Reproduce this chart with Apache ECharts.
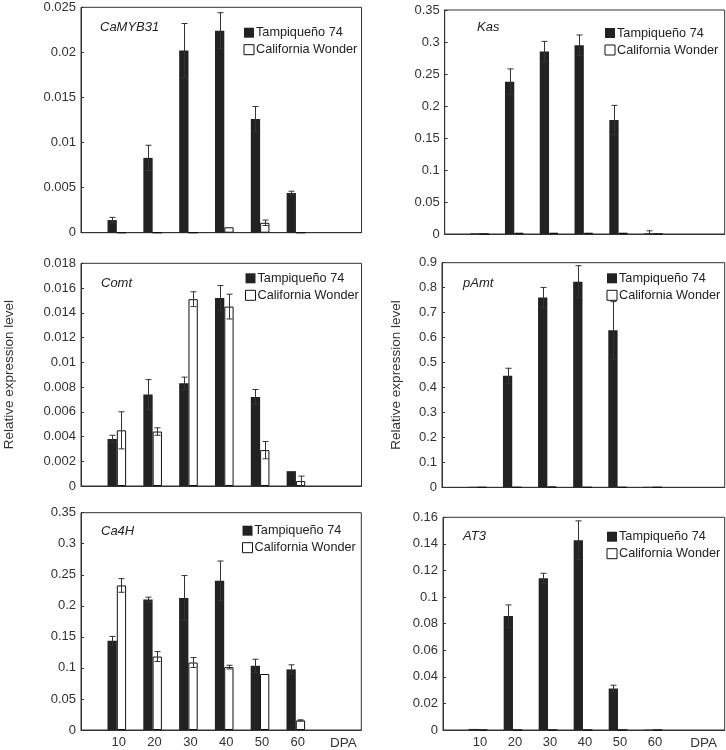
<!DOCTYPE html>
<html><head><meta charset="utf-8">
<script src="https://cdn.jsdelivr.net/npm/echarts@6/dist/echarts.min.js"></script>
<style>html,body{margin:0;padding:0;background:#fff}#c{width:726px;height:750px}</style>
</head><body><div id="c"></div>
<script>
// ---- data ----
const dpa = [10, 20, 30, 40, 50, 60];
const seriesNames = ['Tampiqueño 74', 'California Wonder'];
const genes = ['CaMYB31', 'Kas', 'Comt', 'pAmt', 'Ca4H', 'AT3'];
const yTitle = 'Relative expression level';
const xTitle = 'DPA';

const camyb31Tamp    = [0.0014, 0.0083, 0.0202, 0.0224, 0.0126, 0.0044];
const camyb31TampErr = [0.0003, 0.0014, 0.0030, 0.0020, 0.0014, 0.0002];
const camyb31Cal     = [0, 0, 0, 0.0006, 0.0011, 0];
const camyb31CalErr  = [0, 0, 0, 0, 0.0003, 0];

const kasTamp    = [0.001, 0.238, 0.285, 0.295, 0.178, 0.001];
const kasTampErr = [0, 0.020, 0.016, 0.016, 0.023, 0.004];
const kasCal     = [0, 0.002, 0.002, 0.002, 0.002, 0];
const kasCalErr  = [0, 0, 0, 0, 0, 0];

const comtTamp    = [0.0038, 0.0074, 0.0083, 0.0152, 0.0072, 0.0012];
const comtTampErr = [0.0003, 0.0012, 0.0005, 0.0010, 0.0006, 0];
const comtCal     = [0.0045, 0.0044, 0.0151, 0.0145, 0.0029, 0.0004];
const comtCalErr  = [0.0015, 0.0003, 0.0006, 0.0010, 0.0007, 0.0004];

const pamtTamp    = [0.002, 0.447, 0.761, 0.824, 0.629, 0.002];
const pamtTampErr = [0, 0.030, 0.040, 0.064, 0.115, 0];
const pamtCal     = [0, 0, 0.002, 0, 0, 0];
const pamtCalErr  = [0, 0, 0, 0, 0, 0];

const ca4hTamp    = [0.1437, 0.2100, 0.2127, 0.2402, 0.1034, 0.0976];
const ca4hTampErr = [0.007, 0.004, 0.036, 0.032, 0.0106, 0.0074];
const ca4hCal     = [0.2328, 0.1183, 0.1087, 0.1013, 0.0902, 0.0154];
const ca4hCalErr  = [0.011, 0.008, 0.008, 0.003, 0, 0.001];

const at3Tamp    = [0.0008, 0.0857, 0.1142, 0.1427, 0.0312, 0.0003];
const at3TampErr = [0, 0.0084, 0.0037, 0.0146, 0.0025, 0];
const at3Cal     = [0, 0, 0, 0, 0, 0];
const at3CalErr  = [0, 0, 0, 0, 0, 0];

const yMax      = [0.025, 0.35, 0.018, 0.9, 0.35, 0.16];
const yInterval = [0.005, 0.05, 0.002, 0.1, 0.05, 0.02];

const tampAll = [camyb31Tamp, kasTamp, comtTamp, pamtTamp, ca4hTamp, at3Tamp];
const tampErrAll = [camyb31TampErr, kasTampErr, comtTampErr, pamtTampErr, ca4hTampErr, at3TampErr];
const calAll = [camyb31Cal, kasCal, comtCal, pamtCal, ca4hCal, at3Cal];
const calErrAll = [camyb31CalErr, kasCalErr, comtCalErr, pamtCalErr, ca4hCalErr, at3CalErr];

// ---- layout (styles) ----
const layout = [
  {grid:[81, 7.3, 280.5, 225.4], xMax:78.3, title:[100, 20.5], legend:[238.5, 20.7], xl:false, yname:false},
  {grid:[444.7, 10, 280, 224], xMax:80.5, title:[477, 20.5], legend:[599.5, 21], xl:false, yname:false},
  {grid:[81, 263.3, 280.5, 222.7], xMax:78.3, title:[101, 276.8], legend:[240, 266.3], xl:false, yname:true, nameGap:65},
  {grid:[442, 262.7, 282.7, 224.6], xMax:80.5, title:[463, 276.8], legend:[601.5, 266.3], xl:false, yname:true, nameGap:39},
  {grid:[81, 512.7, 280.3, 220], xMax:78.3, title:[101, 525.2], legend:[237, 518.7], xl:true, yname:false, dpaGap:-18},
  {grid:[443, 517.3, 281.7, 215.4], xMax:80.5, title:[463, 530.2], legend:[601.5, 524.7], xl:true, yname:false, dpaGap:-21}
];

const FONT = '"Liberation Sans", Arial, sans-serif';
const DARK = '#222';
const BW = 9.3;

const grids = [], xAxes = [], yAxes = [], series = [], legends = [], titles = [];
layout.forEach((L, i) => {
  grids.push({left:L.grid[0], top:L.grid[1], width:L.grid[2], height:L.grid[3],
    show:true, borderColor:'#333', borderWidth:1, backgroundColor:'transparent'});
  xAxes.push({type:'value', gridIndex:i, min:0, max:L.xMax, interval:10,
    axisLine:{show:true, lineStyle:{color:'#333', width:1}},
    axisTick:{show:false}, splitLine:{show:false},
    axisLabel:{show:L.xl, color:'#333', fontSize:13, fontFamily:FONT, margin:6, padding:[0,0,0,4],
      showMinLabel:true, showMaxLabel:false,
      formatter: v => dpa.indexOf(Math.round(v)) >= 0 ? String(Math.round(v)) : ''},
    name: L.xl ? xTitle : '', nameLocation:'end', nameGap: L.dpaGap || 0,
    nameTextStyle:{color:'#333', fontSize:13.5, fontFamily:FONT, align:'center', verticalAlign:'top', padding:[6,0,0,0]}
  });
  yAxes.push({type:'value', gridIndex:i, min:0, max:yMax[i], interval:yInterval[i],
    axisLine:{show:true, lineStyle:{color:'#333', width:1}},
    axisTick:{show:true, inside:true, length:3, lineStyle:{color:'#333'}},
    splitLine:{show:false},
    axisLabel:{color:'#333', fontSize:13, fontFamily:FONT, margin:5},
    name: L.yname ? yTitle : '', nameLocation:'middle', nameGap: L.nameGap || 0,
    nameTextStyle:{color:'#333', fontSize:13.5, fontFamily:FONT}
  });
  series.push({type:'bar', name:seriesNames[0], xAxisIndex:i, yAxisIndex:i,
    barWidth:BW, barGap:'0%', itemStyle:{color:DARK},
    data: dpa.map((d, k) => [d, tampAll[i][k]])});
  series.push({type:'bar', name:seriesNames[1], xAxisIndex:i, yAxisIndex:i,
    barWidth:BW, barGap:'0%', itemStyle:{color:'#fff', borderColor:'#111', borderWidth:1},
    data: dpa.map((d, k) => [d, calAll[i][k]])});
  [[tampAll[i], tampErrAll[i], -BW/2], [calAll[i], calErrAll[i], BW/2]].forEach(([vals, errs, off]) => {
    series.push({type:'custom', xAxisIndex:i, yAxisIndex:i, silent:true, z:5,
      encode:{x:0, y:1},
      data: dpa.map((d, k) => [d, vals[k], errs[k]]),
      renderItem(params, api) {
        const x = api.value(0), v = api.value(1), e = api.value(2);
        if (!e) return null;
        const t = api.coord([x, v + e]), b = api.coord([x, Math.max(0, v - e)]);
        const cx = Math.round(t[0] + off) + 0.5, cw = 3;
        const st = {stroke:'#333', lineWidth:1};
        return {type:'group', children:[
          {type:'line', shape:{x1:cx, y1:t[1], x2:cx, y2:b[1]}, style:st},
          {type:'line', shape:{x1:cx-cw, y1:t[1], x2:cx+cw, y2:t[1]}, style:st},
          {type:'line', shape:{x1:cx-cw, y1:b[1], x2:cx+cw, y2:b[1]}, style:st}
        ]};
      }});
  });
  legends.push({orient:'vertical', left:L.legend[0], top:L.legend[1], itemWidth:10, itemHeight:10, itemGap:3,
    selectedMode:false, icon:'rect',
    textStyle:{color:'#222', fontSize:12.7, fontFamily:FONT, lineHeight:14, padding:[0,0,0,-3]},
    data:[{name:seriesNames[0], itemStyle:{color:DARK}},
          {name:seriesNames[1], itemStyle:{color:'#fff', borderColor:'#111', borderWidth:1}}]});
  titles.push({text:genes[i], left:L.title[0], top:L.title[1], padding:0,
    textStyle:{fontStyle:'italic', fontWeight:'normal', fontSize:13, color:'#222', fontFamily:FONT, lineHeight:13}});
});

const chart = echarts.init(document.getElementById('c'), null, {renderer:'canvas'});
chart.setOption({animation:false, backgroundColor:'#fff',
  title:titles, legend:legends, grid:grids, xAxis:xAxes, yAxis:yAxes, series:series});
</script></body></html>
